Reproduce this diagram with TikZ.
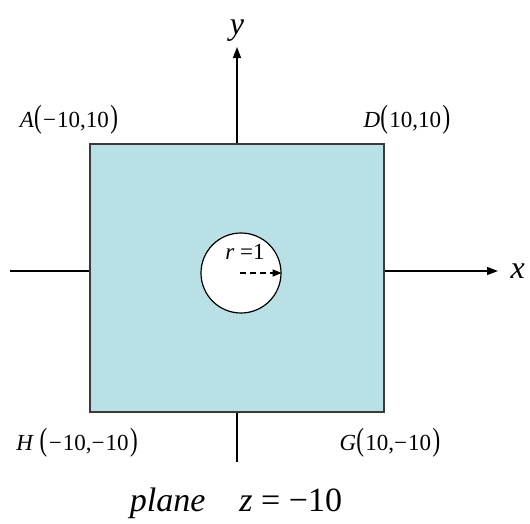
\documentclass[tikz,border=0pt]{standalone}
\usepackage{fontspec}
\setmainfont{Liberation Serif}
\usetikzlibrary{arrows.meta,positioning}
\definecolor{platefill}{HTML}{B9E0E4}
\definecolor{plateedge}{HTML}{3A3A3A}
\newcommand\bpar[1]{\scalebox{1}[1.4]{(}\hspace{1.5pt}#1\hspace{1.5pt}\scalebox{1}[1.4]{)}}
\newcommand\mn{−\hspace{1pt}}
\tikzset{
  axis/.style={line width=1.4pt,black},
  tip/.style={-{Triangle[length=11pt,width=8pt]}},
  corner/.style={font=\fontsize{23}{27}\selectfont}
}

\begin{document}
\begin{tikzpicture}[x=1pt,y=-1pt]
  \useasboundingbox (0,0) rectangle (530,523);
  % placa y agujero
  \node[draw=plateedge,line width=1.5pt,fill=platefill,minimum width=294pt,
        minimum height=268pt,inner sep=0pt] (plate) at (237,278) {};
  \node[draw,circle,line width=1.2pt,fill=white,minimum size=80pt,inner sep=0pt]
        (hole) at (241,273) {};
  % ejes
  \coordinate (xl) at (10,271);
  \coordinate (xr) at (498,271);
  \coordinate (yt) at (237,47);
  \coordinate (yb) at (237,462);
  \draw[axis] (xl) -- (xl -| plate.west);
  \draw[axis,tip] (plate.east |- xr) -- (xr);
  \draw[axis,tip] (plate.north) -- (yt);
  \draw[axis] (plate.south) -- (yb);
  \node[right=9pt,font=\fontsize{32}{36}\selectfont\itshape] (xlab) at (xr) {x};
  \node[above=2pt,font=\fontsize{32}{36}\selectfont\itshape] (ylab) at (yt) {y};
  % radio
  \coordinate (rc) at (240,273);
  \draw[line width=1.3pt,dash pattern=on 6pt off 4pt,
        -{Triangle[length=9pt,width=7pt]}] (rc) -- (hole.east);
  \node[font=\fontsize{23}{26}\selectfont] (rlab) at (245,252) {\textit{r} =1};
  % esquinas
  \node[corner] (A) at (69,120) {\textit{A}\bpar{\mn10,10}};
  \node[corner] (D) at (407,120) {\textit{D}\bpar{10,10}};
  \node[corner] (H) at (77,443) {\textit{H} \bpar{\mn10,\mn10}};
  \node[corner] (G) at (390,443) {\textit{G}\bpar{10,\mn10}};
  % titulo
  \node[font=\fontsize{34}{40}\selectfont] (title) at (236,503)
       {\textit{plane}\quad \textit{z} = −10};
\end{tikzpicture}
\end{document}
